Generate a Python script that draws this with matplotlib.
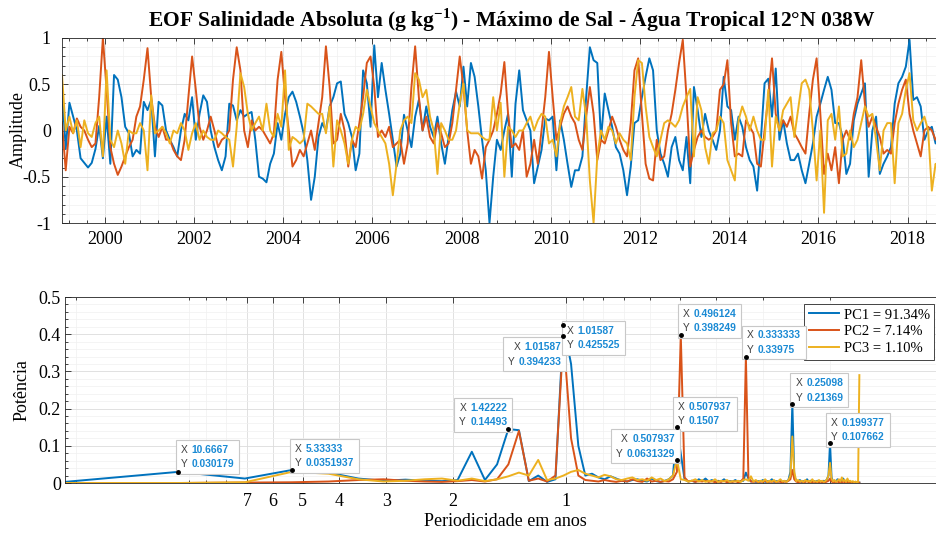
import numpy as np
import matplotlib
matplotlib.use("Agg")
import matplotlib.pyplot as plt
from matplotlib.ticker import MultipleLocator, FixedLocator, NullFormatter, FuncFormatter
from matplotlib.offsetbox import TextArea, HPacker, VPacker, AnnotationBbox

plt.rcParams["font.family"] = ["Liberation Serif", "DejaVu Serif"]
plt.rcParams["axes.unicode_minus"] = False
plt.rcParams["mathtext.fontset"] = "custom"
plt.rcParams["mathtext.rm"] = "Liberation Serif"
plt.rcParams["mathtext.bf"] = "Liberation Serif:bold"

# monthly amplitudes, Jan 1999 onwards
pc1 = [0.45, -0.2, 0.3, 0.15, 0.0, -0.3, -0.35, -0.4, -0.35, -0.2, 0.05, -0.3,
       0.15, -0.36, 0.6, 0.55, 0.36, 0.04, -0.03, -0.28, -0.21, -0.25, 0.31, 0.22,
       0.33, -0.28, 0.31, 0.27, 0.0, -0.1, -0.18, -0.28, 0.0, 0.18, 0.11, 0.36,
       -0.1, 0.18, 0.38, 0.31, 0.0, -0.18, -0.32, -0.43, -0.28, 0.29, 0.27, 0.11,
       0.22, 0.15, 0.18, 0.2, -0.1, -0.5, -0.52, -0.56, -0.36, -0.25, 0.08, -0.1,
       0.18, 0.36, 0.42, 0.31, 0.15, -0.03, -0.32, -0.75, -0.5, -0.07, 0.08, 0.0,
       0.26, 0.36, 0.51, 0.53, 0.18, 0.08, -0.07, -0.43, -0.25, 0.65, 0.51, 0.04,
       0.92, 0.36, 0.73, 0.44, 0.18, -0.1, -0.39, -0.25, 0.17, 0.0, -0.18, 0.15,
       0.33, 0.0, 0.26, 0.04, -0.07, 0.15, -0.14, -0.36, -0.07, 0.22, 0.42, 0.26,
       0.69, 0.26, 0.73, 0.58, 0.26, -0.1, -0.43, -1.0, -0.5, -0.1, -0.21, 0.0,
       0.18, -0.5, 0.29, 0.65, 0.22, 0.11, 0.0, -0.57, -0.39, -0.21, 0.13, 0.11,
       0.15, -0.43, 0.11, -0.1, -0.36, -0.61, -0.43, -0.43, -0.28, 0.36, 0.9, 0.76,
       0.73, -0.1, 0.4, 0.22, 0.04, -0.18, -0.25, -0.43, -0.7, -0.39, 0.08, 0.11,
       0.36, 0.58, 0.78, 0.65, 0.0, -0.25, -0.36, -0.5, -0.18, -0.07, -0.32, -0.43,
       -0.07, -0.57, 0.47, 0.22, -0.07, 0.18, 0.0, -0.1, -0.21, 0.0, 0.58, 0.26,
       0.22, -0.1, 0.15, 0.04, -0.18, -0.32, -0.39, -0.65, -0.1, 0.51, 0.56, 0.15,
       0.67, -0.1, 0.11, -0.14, -0.32, -0.32, -0.25, -0.43, -0.57, -0.36, -0.14, 0.15,
       0.29, 0.44, 0.58, 0.44, 0.08, 0.08, -0.07, -0.47, -0.36, 0.11, 0.29, 0.4,
       0.51, -0.5, 0.0, 0.15, -0.47, -0.36, -0.28, -0.18, 0.29, 0.51, 0.58, 0.69,
       0.98, 0.33, 0.36, 0.26, -0.1, 0.0, 0.04, -0.14, -0.05, 0.1]

pc2 = [0.08, -0.43, 0.04, -0.03, 0.13, 0.04, 0.0, -0.1, -0.18, -0.14, 0.36, 1.0,
       0.44, -0.18, -0.36, -0.48, -0.39, -0.28, -0.18, -0.1, 0.15, 0.26, 0.55, 0.89,
       0.36, 0.04, -0.07, 0.04, -0.1, -0.1, -0.21, -0.28, -0.32, -0.1, 0.36, 0.8,
       0.44, 0.04, -0.1, 0.0, 0.15, 0.0, -0.18, -0.1, -0.07, 0.0, 0.55, 0.9,
       0.65, 0.0, -0.18, 0.11, 0.0, 0.04, 0.0, -0.07, -0.14, -0.03, 0.55, 0.85,
       0.36, 0.0, -0.39, -0.32, -0.21, -0.28, -0.14, 0.0, -0.21, 0.08, 0.36, 0.91,
       0.47, -0.14, -0.1, 0.18, 0.0, -0.39, -0.1, -0.18, 0.08, 0.36, 0.73, 0.8,
       0.47, -0.07, 0.0, -0.07, 0.04, -0.18, -0.14, -0.1, -0.36, -0.14, 0.47, 0.91,
       0.36, 0.0, 0.15, -0.07, -0.14, 0.08, -0.03, -0.18, -0.14, 0.08, 0.44, 0.8,
       0.47, 0.0, -0.36, -0.21, -0.28, -0.52, -0.18, -0.1, 0.0, 0.18, 0.4, 0.74,
       0.18, -0.18, -0.14, -0.21, 0.0, -0.5, -0.36, -0.1, -0.36, 0.0, 0.36, 0.85,
       0.36, -0.1, 0.04, 0.18, 0.26, 0.15, 0.08, -0.1, -0.21, 0.15, 0.47, 0.18,
       -0.32, -0.1, -0.14, 0.0, 0.15, 0.04, -0.1, -0.21, -0.28, 0.08, 0.65, 0.78,
       0.18, -0.36, -0.52, -0.54, -0.1, -0.32, -0.28, 0.0, 0.18, 0.44, 0.73, 0.98,
       0.36, -0.39, -0.21, -0.07, 0.0, -0.07, -0.1, -0.07, 0.0, 0.44, 0.5, 0.76,
       0.08, -0.28, -0.25, -0.28, 0.11, 0.04, -0.03, -0.36, -0.39, 0.0, 0.36, 0.78,
       0.18, 0.0, 0.11, 0.04, 0.15, -0.03, -0.1, -0.18, -0.25, 0.18, 0.55, 0.78,
       0.18, -0.47, -0.25, -0.43, -0.18, -0.57, -0.1, 0.0, -0.1, 0.18, 0.36, 0.76,
       0.29, 0.04, 0.15, 0.04, -0.07, -0.25, -0.21, -0.25, 0.08, 0.29, 0.44, 0.55,
       0.18, 0.0, -0.14, -0.28, 0.0, 0.04, 0.0, -0.1, -0.05, -0.15]

pc3 = [0.6, 0.0, 0.15, -0.03, 0.11, -0.18, 0.11, -0.03, -0.07, 0.08, 0.15, -0.28,
       0.65, -0.1, -0.18, 0.0, -0.14, -0.36, 0.0, -0.03, -0.03, 0.08, 0.0, -0.43,
       0.38, -0.03, 0.0, 0.04, -0.03, -0.14, 0.0, -0.03, 0.08, 0.0, -0.21, -0.03,
       0.08, -0.1, 0.0, -0.07, -0.1, -0.1, 0.0, -0.03, -0.07, -0.1, -0.39, 0.04,
       0.62, 0.47, 0.18, 0.0, 0.08, 0.15, 0.0, 0.29, 0.0, -0.07, 0.18, 0.04,
       0.65, -0.21, -0.07, -0.1, -0.14, -0.1, 0.29, 0.26, 0.22, 0.18, 0.18, -0.03,
       0.26, -0.39, 0.11, 0.0, -0.14, -0.36, -0.1, 0.04, 0.0, 0.18, 0.44, 0.26,
       0.08, 0.0, -0.07, -0.14, -0.36, -0.7, -0.36, 0.0, 0.11, 0.15, 0.08, 0.62,
       0.55, 0.36, 0.44, 0.15, 0.0, -0.47, 0.08, 0.0, -0.1, -0.1, 0.0, 0.29,
       0.51, 0.0, -0.03, -0.03, -0.03, -0.07, -0.1, -0.1, 0.36, 0.0, 0.3, -0.5,
       0.04, 0.0, -0.07, 0.0, 0.0, 0.08, 0.15, 0.0, 0.11, 0.18, 0.15, -0.14,
       -0.1, -0.28, 0.08, 0.26, 0.36, 0.47, 0.15, 0.11, 0.45, 0.15, -0.54, -1.0,
       -0.28, 0.0, -0.1, 0.04, 0.0, -0.14, -0.03, -0.1, -0.14, -0.32, 0.36, 0.76,
       0.73, 0.26, -0.07, -0.18, -0.28, -0.1, 0.08, 0.11, 0.08, 0.04, 0.11, 0.26,
       0.36, 0.45, -0.28, 0.36, 0.22, -0.18, -0.36, -0.03, 0.0, 0.15, 0.08, -0.32,
       -0.43, -0.54, 0.11, 0.26, 0.15, 0.0, 0.15, 0.0, -0.1, -0.1, 0.44, -0.39,
       0.15, 0.0, 0.22, 0.29, 0.36, -0.07, 0.22, 0.51, 0.55, 0.44, 0.0, -0.54,
       0.0, -0.89, 0.11, 0.18, -0.1, 0.26, -0.28, -0.25, 0.0, -0.18, -0.1, 0.08,
       0.26, 0.15, 0.18, -0.1, -0.43, 0.0, 0.08, 0.08, -0.57, 0.08, 0.18, 0.44,
       0.62, 0.11, 0.0, 0.08, 0.15, 0.0, -0.65, -0.36, -0.45, -0.35]

# power spectra, FFT bins k = 1..128 of a 256-month window
pow1 = [0.003, 0.030, 0.012, 0.035, 0.028, 0.012, 0.006, 0.009, 0.006, 0.005,
        0.008, 0.084, 0.008, 0.050, 0.145, 0.142, 0.005, 0.020, 0.003, 0.010,
        0.4255, 0.320, 0.100, 0.020, 0.025, 0.015, 0.010, 0.018, 0.012, 0.006,
        0.004, 0.008, 0.010, 0.006, 0.004, 0.012, 0.005, 0.003, 0.006, 0.010,
        0.020, 0.1507, 0.080, 0.010, 0.004, 0.006, 0.003, 0.010, 0.005, 0.012,
        0.004, 0.008, 0.003, 0.006, 0.004, 0.010, 0.003, 0.005, 0.004, 0.008,
        0.003, 0.005, 0.006, 0.028, 0.012, 0.004, 0.006, 0.003, 0.005, 0.004,
        0.008, 0.003, 0.005, 0.004, 0.010, 0.003, 0.005, 0.004, 0.006, 0.003,
        0.005, 0.004, 0.008, 0.030, 0.2137, 0.020, 0.006, 0.004, 0.008, 0.003,
        0.005, 0.004, 0.010, 0.003, 0.006, 0.004, 0.005, 0.003, 0.006, 0.004,
        0.005, 0.003, 0.006, 0.004, 0.010, 0.020, 0.1077, 0.015, 0.004, 0.006,
        0.003, 0.010, 0.004, 0.006, 0.003, 0.012, 0.004, 0.005, 0.003, 0.004,
        0.003, 0.002, 0.002, 0.002, 0.001, 0.001, 0.001, 0.001]

pow2 = [0.000, 0.000, 0.001, 0.002, 0.004, 0.008, 0.010, 0.006, 0.004, 0.003,
        0.005, 0.008, 0.004, 0.010, 0.050, 0.140, 0.006, 0.012, 0.004, 0.020,
        0.3942, 0.120, 0.020, 0.008, 0.006, 0.004, 0.008, 0.005, 0.003, 0.006,
        0.004, 0.010, 0.005, 0.003, 0.012, 0.004, 0.006, 0.003, 0.005, 0.004,
        0.010, 0.030, 0.3982, 0.015, 0.004, 0.006, 0.003, 0.005, 0.004, 0.006,
        0.003, 0.005, 0.002, 0.004, 0.003, 0.006, 0.002, 0.004, 0.003, 0.005,
        0.002, 0.004, 0.012, 0.3398, 0.015, 0.004, 0.003, 0.005, 0.002, 0.004,
        0.003, 0.006, 0.002, 0.004, 0.003, 0.005, 0.002, 0.004, 0.003, 0.002,
        0.004, 0.003, 0.006, 0.010, 0.035, 0.010, 0.004, 0.002, 0.003, 0.004,
        0.002, 0.003, 0.005, 0.002, 0.003, 0.002, 0.004, 0.002, 0.003, 0.002,
        0.004, 0.002, 0.003, 0.002, 0.004, 0.006, 0.012, 0.004, 0.002, 0.003,
        0.002, 0.004, 0.002, 0.003, 0.002, 0.004, 0.002, 0.003, 0.002, 0.002,
        0.001, 0.001, 0.001, 0.001, 0.001, 0.001, 0.001, 0.001]

pow3 = [0.000, 0.000, 0.002, 0.030, 0.025, 0.010, 0.004, 0.006, 0.010, 0.012,
        0.006, 0.012, 0.005, 0.010, 0.018, 0.028, 0.020, 0.062, 0.008, 0.012,
        0.020, 0.030, 0.035, 0.025, 0.020, 0.015, 0.022, 0.018, 0.010, 0.008,
        0.012, 0.015, 0.008, 0.010, 0.006, 0.015, 0.008, 0.012, 0.005, 0.010,
        0.020, 0.0631, 0.010, 0.008, 0.004, 0.006, 0.010, 0.004, 0.008, 0.003,
        0.006, 0.004, 0.010, 0.003, 0.006, 0.004, 0.008, 0.003, 0.005, 0.004,
        0.006, 0.003, 0.008, 0.010, 0.006, 0.018, 0.004, 0.008, 0.003, 0.006,
        0.004, 0.010, 0.003, 0.006, 0.004, 0.008, 0.003, 0.005, 0.010, 0.004,
        0.006, 0.003, 0.008, 0.020, 0.125, 0.030, 0.005, 0.008, 0.004, 0.006,
        0.003, 0.008, 0.004, 0.006, 0.003, 0.010, 0.004, 0.005, 0.003, 0.008,
        0.004, 0.006, 0.003, 0.005, 0.010, 0.020, 0.054, 0.012, 0.004, 0.008,
        0.003, 0.006, 0.010, 0.004, 0.015, 0.005, 0.008, 0.003, 0.012, 0.004,
        0.006, 0.003, 0.005, 0.002, 0.004, 0.002, 0.003, 0.290]

labels = ["PC1 = 91.34%", "PC2 = 7.14%", "PC3 = 1.10%"]
colors = ["#0072BD", "#D95319", "#EDB120"]

# data tips: (period, value, X text, Y text, dx px, dy px, box alignment)
tips = [
    (10.6667, 0.030179, "10.6667", "0.030179", 2, 3, (0, 0)),
    (5.33333, 0.0351937, "5.33333", "0.0351937", 3, 2, (0, 0)),
    (1.42222, 0.14493, "1.42222", "0.14493", -1, 2, (1, 0)),
    (1.01587, 0.394233, "1.01587", "0.394233", -2, -6, (1, 1)),
    (1.01587, 0.425525, "1.01587", "0.425525", 3, -1, (0, 1)),
    (0.496124, 0.398249, "0.496124", "0.398249", 2, 2, (0, 0)),
    (0.507937, 0.1507, "0.507937", "0.1507", 1, 1, (0, 0)),
    (0.507937, 0.0631329, "0.507937", "0.0631329", -2, 1, (1, 0)),
    (0.333333, 0.33975, "0.333333", "0.33975", 1, 2, (0, 0)),
    (0.25098, 0.21369, "0.25098", "0.21369", 3, 1, (0, 0)),
    (0.199377, 0.107662, "0.199377", "0.107662", 1, 1, (0, 0)),
]

W, H = 936, 536
fig = plt.figure(figsize=(W / 100, H / 100), dpi=100)


def px_axes(left, top, right, bottom):
    return fig.add_axes([left / W, 1 - bottom / H, (right - left) / W, (bottom - top) / H])


def style_axes(ax):
    for s in ax.spines.values():
        s.set_color("#262626")
        s.set_linewidth(0.6)
    ax.tick_params(which="both", direction="in", top=True, right=True, colors="#262626",
                   labelcolor="black", labelsize=13, width=0.6)
    ax.tick_params(which="major", length=4)
    ax.tick_params(which="minor", length=2)
    ax.grid(which="major", color="#dcdcdc", lw=0.6)
    ax.grid(which="minor", color="#f0f0f0", lw=0.5)
    ax.set_axisbelow(True)


fmt = FuncFormatter(lambda v, p: "%g" % round(v, 3))

# top panel: time series
ax1 = px_axes(62, 38, 943, 223)
for vals, c in zip([pc1, pc2, pc3], colors):
    t = 1999 + (np.arange(len(vals)) + 0.5) / 12
    ax1.plot(t, vals, color=c, lw=1.4)
ax1.set_xlim(1999 + 0.5 / 12, 1999 + (len(pc1) - 0.5) / 12)
ax1.set_ylim(-1, 1)
ax1.xaxis.set_major_locator(MultipleLocator(2))
ax1.xaxis.set_minor_locator(MultipleLocator(0.4))
ax1.yaxis.set_major_locator(MultipleLocator(0.5))
ax1.yaxis.set_minor_locator(MultipleLocator(0.1))
ax1.xaxis.set_major_formatter(FuncFormatter(lambda v, p: "%d" % round(v)))
ax1.yaxis.set_major_formatter(fmt)
style_axes(ax1)
ax1.tick_params(axis="y", pad=8)
ax1.tick_params(axis="x", pad=6)
fig.text(512 / W, 1 - 20 / H,
         "EOF Salinidade Absoluta (g kg$^{\\mathbf{-1}}$) - Máximo de Sal - Água Tropical 12°N 038W",
         ha="center", va="center", fontsize=15.5, fontweight="bold")
fig.text(18 / W, 1 - 130 / H, "Amplitude", rotation=90, ha="center", va="center", fontsize=13)

# bottom panel: spectra against period
ax2 = px_axes(65, 297, 943, 483)
k = np.arange(1, len(pow1) + 1)
period = 256 / 12 / k
for vals, c, lab in zip([pow1, pow2, pow3], colors, labels):
    ax2.plot(period, vals, color=c, lw=1.4, label=lab)
ax2.set_xscale("log")
ax2.set_xlim(256 / 12, 0.1)
ax2.set_ylim(0, 0.5)
ax2.xaxis.set_major_locator(FixedLocator([1, 2, 3, 4, 5, 6, 7]))
ax2.xaxis.set_minor_locator(FixedLocator([0.2, 0.3, 0.4, 0.5, 0.6, 0.7, 0.8, 0.9, 8, 9, 10, 20]))
ax2.xaxis.set_major_formatter(FuncFormatter(lambda v, p: "%d" % round(v)))
ax2.xaxis.set_minor_formatter(NullFormatter())
ax2.yaxis.set_major_locator(MultipleLocator(0.1))
ax2.yaxis.set_minor_locator(MultipleLocator(0.02))
ax2.yaxis.set_major_formatter(fmt)
style_axes(ax2)
ax2.tick_params(axis="x", pad=7)
ax2.tick_params(axis="y", pad=3)
fig.text(22 / W, 1 - 390 / H, "Potência", rotation=90, ha="center", va="center", fontsize=13)
fig.text(505 / W, 1 - 522 / H, "Periodicidade em anos", ha="center", va="center", fontsize=13)

leg = ax2.legend(loc="upper right", bbox_to_anchor=(934 / W, 1 - 304 / H), bbox_transform=fig.transFigure,
                 fontsize=10.5, fancybox=False, framealpha=1, edgecolor="#262626",
                 handlelength=2.1, handletextpad=0.3, borderpad=0.3, labelspacing=0.25, borderaxespad=0)
leg.get_frame().set_linewidth(0.6)
leg.set_zorder(5)

gray = dict(color="#404040", fontsize=7.4, family="Liberation Sans")
blue = dict(color="#1a8ad4", fontsize=7.4, family="Liberation Sans", fontweight="bold")
for x, y, xs, ys, dx, dy, al in tips:
    rows = [HPacker(children=[TextArea("X", textprops=gray), TextArea(xs, textprops=blue)], sep=3, pad=0),
            HPacker(children=[TextArea("Y", textprops=gray), TextArea(ys, textprops=blue)], sep=3, pad=0)]
    box = VPacker(children=rows, align="right" if al[0] == 1 else "left", sep=3, pad=0)
    ab = AnnotationBbox(box, (x, y), xybox=(dx, dy), xycoords="data", boxcoords="offset pixels",
                        box_alignment=al, frameon=True, pad=0.35,
                        bboxprops=dict(facecolor="white", edgecolor="#c8c8c8", lw=0.8))
    ab.set_zorder(8)
    ax2.add_artist(ab)
    ax2.plot(x, y, "o", color="black", ms=2.5, zorder=9)

fig.savefig("out.png", dpi=100)
